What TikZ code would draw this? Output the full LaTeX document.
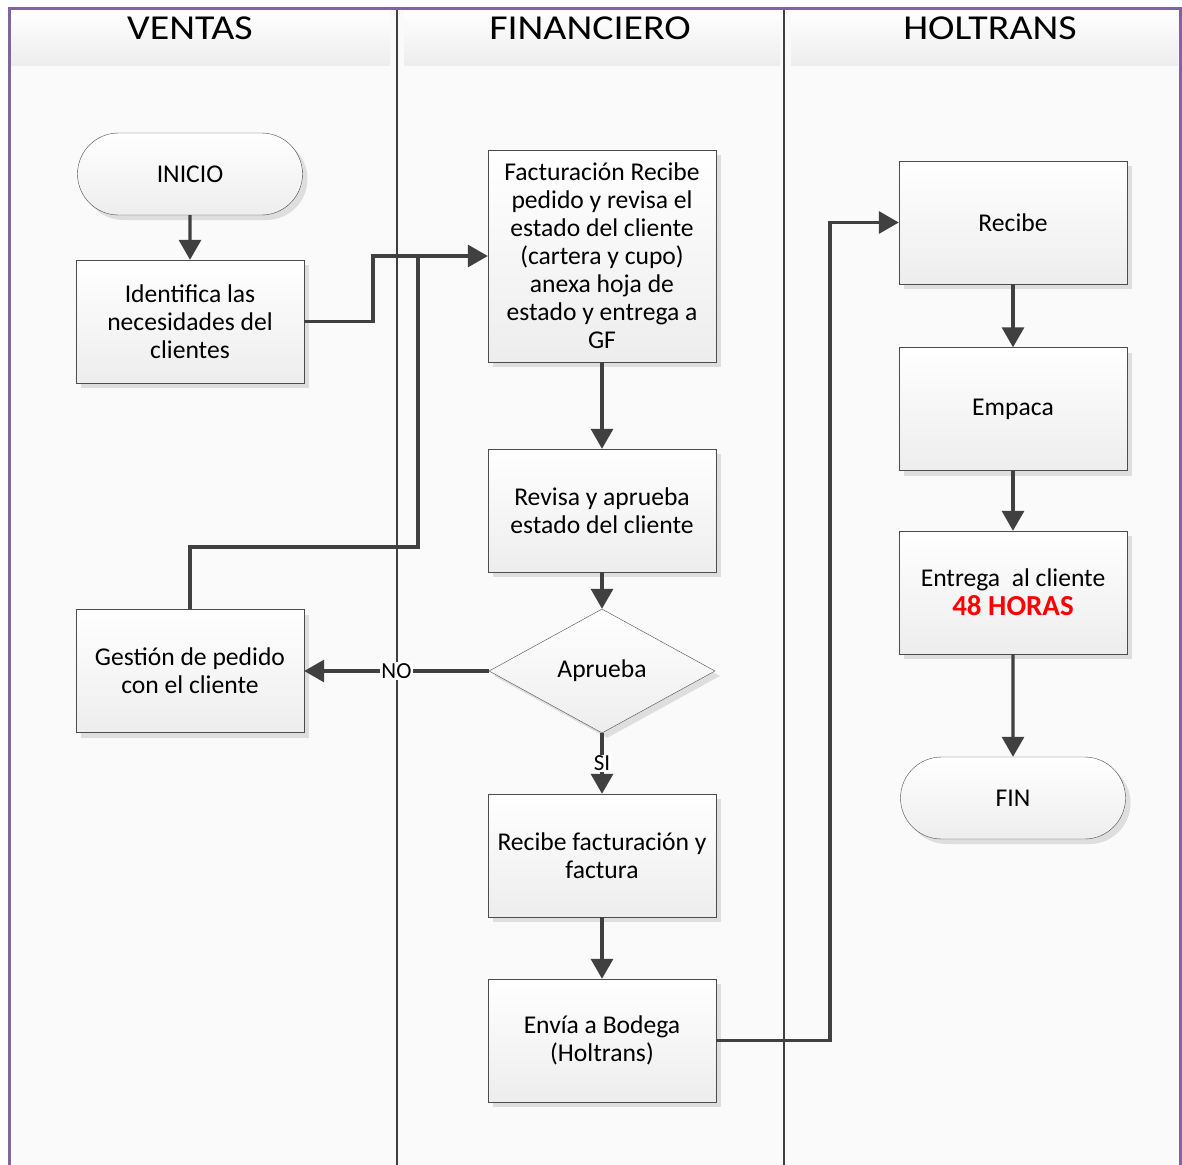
\documentclass[tikz,border=0pt]{standalone}
\usepackage{fontspec}
\setmainfont{Carlito}
\newfontfamily\headfont[FakeStretch=1.14]{Carlito}
\usetikzlibrary{calc}
\usetikzlibrary{shapes}
\usetikzlibrary{shadows}
\usetikzlibrary{arrows.meta}
\definecolor{lanepurple}{RGB}{128,100,162}
\definecolor{linegray}{RGB}{64,64,64}
\newcommand{\lanehead}[5]{ \shade[top color=white,bottom color=black!7] ( #1 , 10 ) rectangle ( #2 , 65 ); \node[font=\headfont\fontsize{35}{40}\selectfont,anchor=base,inner sep=0pt] (#4) at ( #3 , 40 ){#5};}
\tikzset{
  boxshape/.style={draw=black!70, top color=white, bottom color=black!7, font=\fontsize{25.6}{28}\selectfont, align=center, inner sep=2pt, drop shadow={shadow xshift=5pt,shadow yshift=-5pt,fill=black!13,opacity=1}},
  procbox/.style={boxshape, rectangle, minimum width=228pt, minimum height=123pt},
  termbox/.style={boxshape, rounded rectangle, minimum width=229pt, minimum height=82pt},
  decbox/.style={boxshape, diamond, minimum width=226pt, minimum height=124pt, inner sep=0pt},
  link/.style={draw=linegray, line width=3.3pt},
  flow/.style={link, -{Triangle[length=20pt,width=22pt]}},
  flowlabel/.style={fill=white, inner sep=1pt, font=\fontsize{23}{26}\selectfont}
}
\begin{document}
\begin{tikzpicture}[x=1pt,y=-1pt]
    \useasboundingbox ( 0 , 0 ) rectangle ( 1182 , 1164 );
    % lanes
    \fill[black!2] ( 9 , 9 ) rectangle ( 1180 , 1170 );
    \lanehead{10}{390}{190}{hventas}{VENTAS}
    \lanehead{404}{780}{590}{hfin}{FINANCIERO}
    \lanehead{791}{1178}{990}{hhol}{HOLTRANS}
    \draw[linegray, line width=2pt] ( 397 , 9 ) -- ( 397 , 1170 );
    \draw[linegray, line width=2pt] ( 784 , 9 ) -- ( 784 , 1170 );
    \draw[lanepurple, line width=3pt] ( 9 , 1170 ) -- ( 9 , 9 ) -- ( 1180 , 9 ) -- ( 1180 , 1170 );
    % ventas
    \node[termbox] (inicio) at ( 190 , 174 ){INICIO};
    \node[procbox] (identifica) at ( 190 , 321.5 ){Identifica las\\necesidades del\\clientes};
    \node[procbox] (gestion) at ( 190 , 671 ){Gestión de pedido\\con el cliente};
    % financiero
    \node[procbox, minimum height=212pt] (factura) at ( 602 , 256 ){Facturación Recibe\\pedido y revisa el\\estado del cliente\\(cartera y cupo)\\anexa hoja de\\estado y entrega a\\GF};
    \node[procbox] (revisa) at ( 602 , 510.5 ){Revisa y aprueba\\estado del cliente};
    \node[decbox] (aprueba) at ( 602 , 671 ){Aprueba};
    \node[procbox] (recibefac) at ( 602 , 855.5 ){Recibe facturación y\\factura};
    \node[procbox] (envia) at ( 602 , 1040.5 ){Envía a Bodega\\(Holtrans)};
    % holtrans
    \node[procbox] (recibe) at ( 1013 , 222.5 ){Recibe};
    \node[procbox] (empaca) at ( 1013 , 409 ){Empaca};
    \node[procbox] (entrega) at ( 1013 , 592.5 ){Entrega\ \ al cliente\\[1pt]{\fontsize{29}{30}\selectfont\bfseries\color{red}48 HORAS}};
    \node[termbox] (fin) at ( 1013 , 798 ){FIN};
    % connectors
    \coordinate (jog1) at ( 373 , 321.5 );
    \coordinate (jog2) at ( 418 , 547 );
    \coordinate (jog3) at ( 830 , 1040.5 );
    \draw[flow] (inicio) -- (identifica);
    \draw[flow] (identifica.east) -- (jog1) |- (factura.west);
    \draw[link] (gestion.north) |- (jog2) -- (jog2 |- factura.west);
    \draw[flow] (factura) -- (revisa);
    \draw[flow] (revisa) -- (aprueba);
    \draw[flow] (aprueba.west) -- node[flowlabel]{NO} (gestion.east);
    \draw[flow] (aprueba.south) -- node[flowlabel]{SI} (recibefac.north);
    \draw[flow] (recibefac) -- (envia);
    \draw[flow] (envia.east) -- (jog3) |- (recibe.west);
    \draw[flow] (recibe) -- (empaca);
    \draw[flow] (empaca) -- (entrega);
    \draw[flow] (entrega) -- (fin);
\end{tikzpicture}
\end{document}
